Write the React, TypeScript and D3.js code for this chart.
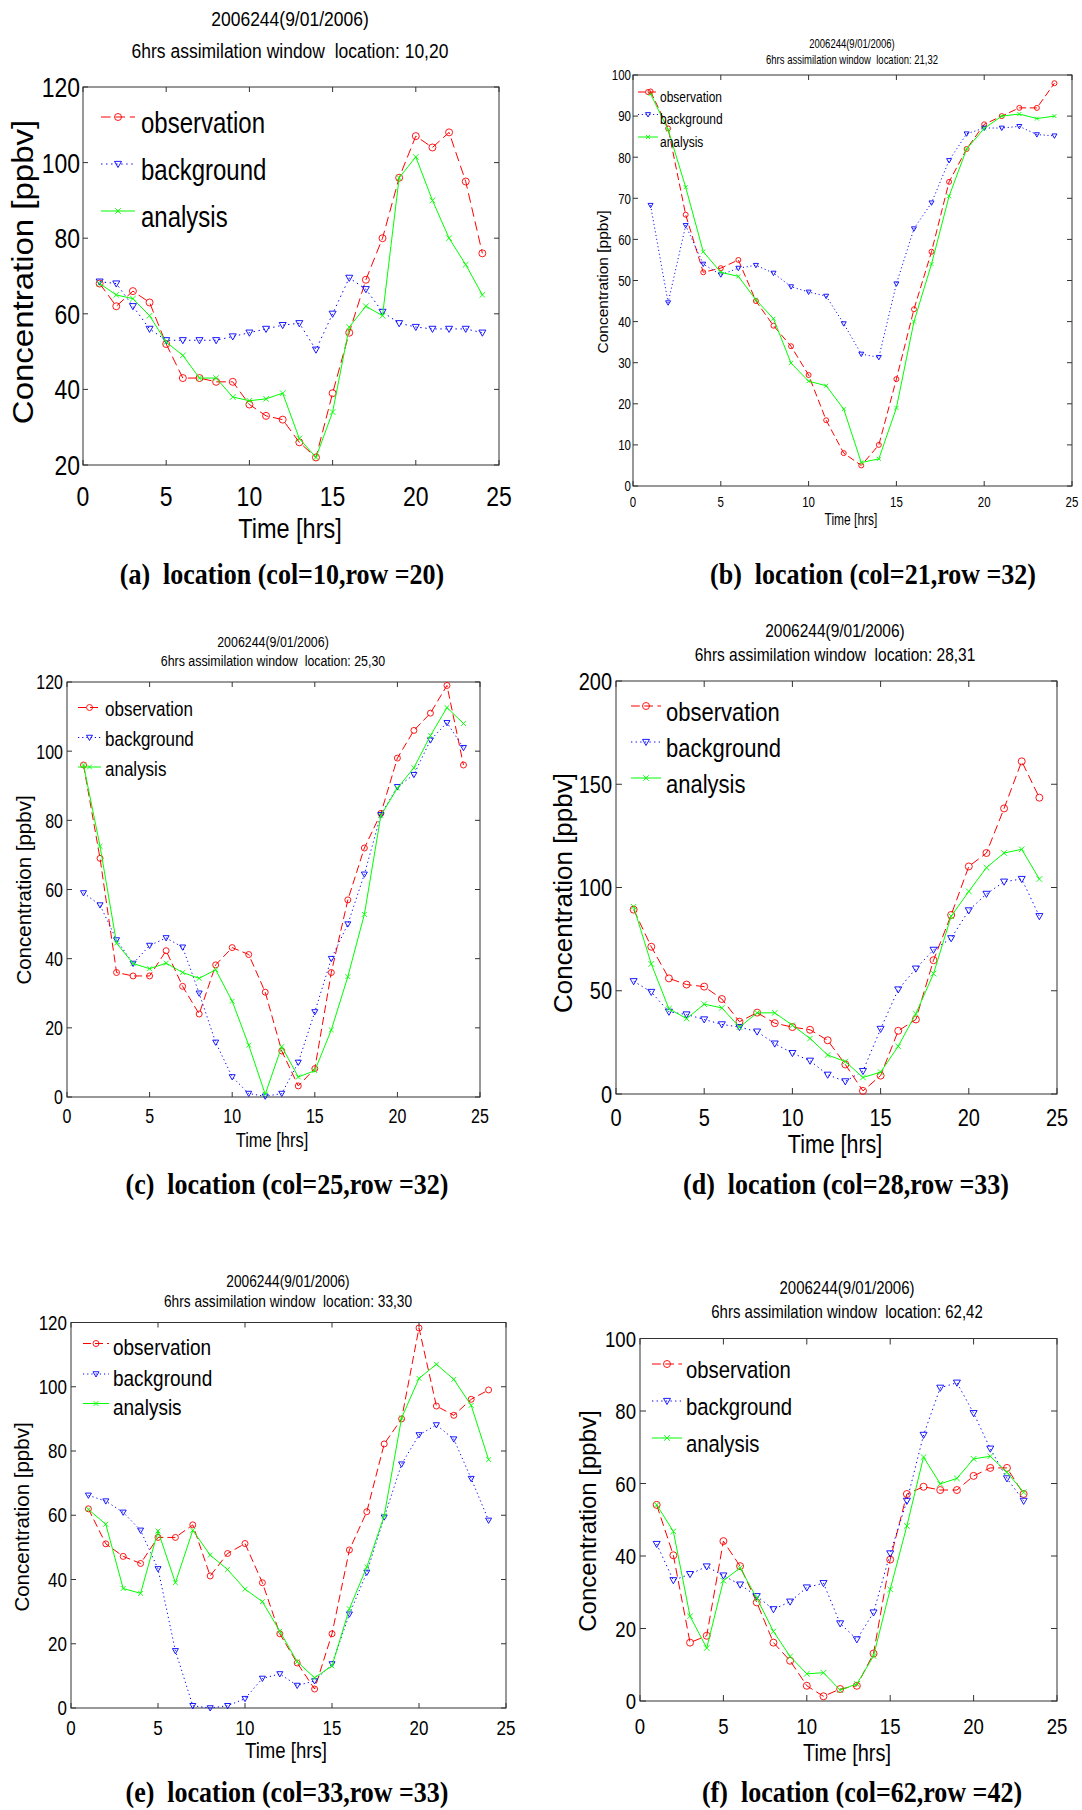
import React from "react";
import * as d3 from "d3";

// ---------- data ----------
const HOURS_24 = [1, 2, 3, 4, 5, 6, 7, 8, 9, 10, 11, 12, 13, 14, 15, 16, 17, 18, 19, 20, 21, 22, 23, 24];
const HOURS_23 = [1, 2, 3, 4, 5, 6, 7, 8, 9, 10, 11, 12, 13, 14, 15, 16, 17, 18, 19, 20, 21, 22, 23];
const X_TICKS = [0, 5, 10, 15, 20, 25];
const SERIES_NAMES = ["observation", "background", "analysis"];
const TITLE_LINE1 = "2006244(9/01/2006)";

const obsA = [68, 62, 66, 63, 52, 43, 43, 42, 42, 36, 33, 32, 26, 22, 39, 55, 69, 80, 96, 107, 104, 108, 95, 76];
const bgA = [68.5, 68, 62, 56, 53, 53, 53, 53, 54, 55, 56, 57, 57.5, 50.5, 60, 69.5, 66.5, 60.5, 57.5, 56.5, 56, 56, 56, 55];
const anA = [68, 65, 64, 59.5, 52.5, 49, 43, 43, 38, 37, 37.5, 39, 27, 22, 34, 56.5, 62, 59.5, 96, 101.5, 90, 80, 73, 65];
const yTicksA = [20, 40, 60, 80, 100, 120];

const obsB = [96, 87, 66, 52, 53, 55, 45, 39, 34, 27, 16, 8, 5, 10, 26, 43, 57, 74, 82, 88, 90, 92, 92, 98];
const bgB = [68.3, 44.6, 63.4, 54, 51.4, 53, 53.7, 51.8, 48.5, 47.2, 46.2, 39.5, 32.1, 31.3, 49.2, 62.6, 68.9, 79.2, 85.7, 87.1, 87.1, 87.5, 85.5, 85.2];
const anB = [95.4, 86.7, 72.7, 57, 52, 51, 45.3, 40.7, 29.9, 25.5, 24.4, 18.7, 5.7, 6.6, 19, 40, 54, 70.5, 82, 87, 90, 90.5, 89.4, 90];
const yTicksB = [0, 10, 20, 30, 40, 50, 60, 70, 80, 90, 100];

const obsC = [96, 69, 36, 35, 35, 42.3, 32, 24, 38.2, 43.2, 41.2, 30.3, 13.3, 3.2, 8.2, 36, 57, 72, 82, 98, 106, 111, 119, 96];
const bgC = [59, 55.5, 45.4, 38.6, 43.8, 46, 43.3, 30, 15.8, 5.8, 1, 0.2, 1, 10, 24.6, 40, 50, 64.4, 81.6, 89.7, 93.2, 103.2, 108.2, 101];
const anC = [96, 72.5, 44.5, 38.6, 37.1, 38.7, 36, 34.3, 36.8, 27.7, 15, 0.8, 14.6, 5.8, 7.6, 19.4, 34.8, 52.8, 81.4, 89.3, 95.2, 104.5, 112.6, 108];
const yTicksC = [0, 20, 40, 60, 80, 100, 120];

const obsD = [89.3, 71.3, 56, 53, 52, 46, 35, 39.4, 34.3, 32.4, 31.1, 26, 14.3, 1.5, 8.9, 30.6, 36.1, 64.8, 86.7, 110.2, 116.7, 138.3, 161.1, 143.5];
const bgD = [54.6, 49.4, 39.8, 38.5, 36.1, 33.7, 32.4, 30.2, 24.4, 19.8, 16.1, 9.3, 6.1, 11.1, 31.5, 50.6, 60.7, 69.8, 75.4, 88.9, 96.9, 102.8, 104.1, 86.1];
const anD = [90.7, 63, 41.3, 36.5, 43.5, 41.7, 32.4, 39.3, 39.3, 33.3, 26.9, 18.9, 15.7, 8, 10.6, 23.1, 38.9, 58.3, 86.1, 98.1, 109.6, 116.7, 118.5, 104.1];
const yTicksD = [0, 50, 100, 150, 200];

const obsE = [62, 51.1, 47.2, 45, 53.1, 53.1, 57, 41.1, 48.1, 51.2, 39, 23.1, 14, 5.9, 23.1, 49.2, 61.1, 82.2, 90, 118.3, 94, 91.1, 96.1, 99];
const bgE = [66.2, 64.4, 60.9, 55.3, 43.3, 17.8, 0.7, 0, 0.7, 2.9, 9.2, 10.6, 7, 8.4, 13.7, 29.2, 42.2, 59.4, 75.9, 85, 88.1, 83.7, 71.4, 58.4];
const anE = [61.8, 57.2, 37.2, 35.7, 55.1, 39, 55.3, 47.6, 43.1, 37, 33.1, 23.9, 14.4, 9.4, 13.1, 30.9, 43.9, 59.8, 90.3, 102.6, 107, 102.3, 94.2, 77.3];
const yTicksE = [0, 20, 40, 60, 80, 100, 120];

const obsF = [54.1, 40.2, 16.1, 18, 44.1, 37.2, 27.2, 16.1, 11.1, 4.2, 1.3, 3.3, 4.2, 13.1, 39, 57.1, 59.1, 58.2, 58.2, 62.1, 64.3, 64.3, 57.1];
const bgF = [43.3, 33.3, 35, 37.1, 34.6, 32.1, 28.9, 25.3, 27.4, 31.3, 32.5, 21.4, 17, 24.4, 40.7, 55.2, 73.4, 86.4, 87.8, 79.4, 69.6, 61.4, 55.2];
const anF = [54.1, 46.8, 23.4, 14.6, 33.2, 36.7, 28.4, 19.2, 12.3, 7.5, 7.8, 3, 4.7, 12.4, 30.8, 48.3, 67.3, 59.9, 61.4, 66.8, 67.5, 63.1, 57.6];
const yTicksF = [0, 20, 40, 60, 80, 100];

// ---------- layout ----------
const SANS = "'Liberation Sans', Arial, Helvetica, sans-serif";
const SERIF = "'Liberation Serif', 'Times New Roman', Times, serif";
const RED = "#ff0000";
const BLUE = "#0000ff";
const GREEN = "#00ff00";

const panels = [
  {
    hours: HOURS_24, obs: obsA, bg: bgA, an: anA, yTicks: yTicksA, yDomain: [20, 120],
    location: "10,20", caption: "(a)  location (col=10,row =20)",
    L: 83, R: 499, T: 87, B: 465, tickLen: 5,
    tickFs: 23, tickSy: 1.2, xTickBase: 506, yTickRight: 80,
    titleFs: 17.5, titleSy: 1.2, titleX: 290, title1Y: 25.5, title2Y: 58,
    xlabFs: 23.5, xlabSy: 1.2, xlabX: 290, xlabY: 538,
    ylabFs: 30, ylabSx: 1.1, ylabX: 22, ylabY: 272,
    legFs: 24, legSy: 1.22, legX0: 101, legX1: 135, legTx: 141, legRows: [117, 164, 211], legOff: 16,
    capX: 282, capY: 584, mk: 3.5, dash: 1.2,
  },
  {
    hours: HOURS_24, obs: obsB, bg: bgB, an: anB, yTicks: yTicksB, yDomain: [0, 100],
    location: "21,32", caption: "(b)  location (col=21,row =32)",
    L: 633, R: 1072, T: 75, B: 486, tickLen: 5,
    tickFs: 11.5, tickSy: 1.3, xTickBase: 507, yTickRight: 631,
    titleFs: 9.5, titleSy: 1.3, titleX: 852, title1Y: 48, title2Y: 64,
    xlabFs: 12, xlabSy: 1.3, xlabX: 851, xlabY: 525,
    ylabFs: 15.5, ylabSx: 1, ylabX: 602, ylabY: 282,
    legFs: 12, legSy: 1.22, legX0: 638, legX1: 658, legTx: 660, legRows: [92, 114.5, 137], legOff: 9.5,
    capX: 873, capY: 584, mk: 2.5, dash: 0.9,
  },
  {
    hours: HOURS_24, obs: obsC, bg: bgC, an: anC, yTicks: yTicksC, yDomain: [0, 120],
    location: "25,30", caption: "(c)  location (col=25,row =32)",
    L: 67, R: 480, T: 682, B: 1097, tickLen: 5,
    tickFs: 16, tickSy: 1.28, xTickBase: 1123, yTickRight: 63,
    titleFs: 12.4, titleSy: 1.25, titleX: 273, title1Y: 647, title2Y: 666,
    xlabFs: 16.5, xlabSy: 1.25, xlabX: 272, xlabY: 1147,
    ylabFs: 20.5, ylabSx: 1, ylabX: 24, ylabY: 890,
    legFs: 17, legSy: 1.23, legX0: 78, legX1: 101, legTx: 105, legRows: [707.5, 737.5, 767], legOff: 8.5,
    capX: 287, capY: 1194, mk: 3, dash: 1,
  },
  {
    hours: HOURS_24, obs: obsD, bg: bgD, an: anD, yTicks: yTicksD, yDomain: [0, 200],
    location: "28,31", caption: "(d)  location (col=28,row =33)",
    L: 616, R: 1057, T: 681, B: 1094, tickLen: 6,
    tickFs: 20, tickSy: 1.2, xTickBase: 1126, yTickRight: 612,
    titleFs: 15.5, titleSy: 1.2, titleX: 835, title1Y: 637, title2Y: 661,
    xlabFs: 21.4, xlabSy: 1.2, xlabX: 835, xlabY: 1153,
    ylabFs: 26, ylabSx: 1, ylabX: 563, ylabY: 893,
    legFs: 22, legSy: 1.18, legX0: 631, legX1: 661, legTx: 666, legRows: [706, 742, 778], legOff: 15,
    capX: 846, capY: 1194, mk: 3.5, dash: 1.1,
  },
  {
    hours: HOURS_24, obs: obsE, bg: bgE, an: anE, yTicks: yTicksE, yDomain: [0, 120],
    location: "33,30", caption: "(e)  location (col=33,row =33)",
    L: 71, R: 506, T: 1322.5, B: 1708, tickLen: 5,
    tickFs: 17, tickSy: 1.18, xTickBase: 1735, yTickRight: 67,
    titleFs: 13.7, titleSy: 1.2, titleX: 288, title1Y: 1287, title2Y: 1307,
    xlabFs: 18.6, xlabSy: 1.15, xlabX: 286, xlabY: 1758,
    ylabFs: 20.5, ylabSx: 1, ylabX: 22, ylabY: 1517,
    legFs: 19, legSy: 1.12, legX0: 83, legX1: 109, legTx: 113, legRows: [1343.5, 1374, 1403.5], legOff: 11.5,
    capX: 287, capY: 1802, mk: 3, dash: 1,
  },
  {
    hours: HOURS_23, obs: obsF, bg: bgF, an: anF, yTicks: yTicksF, yDomain: [0, 100],
    location: "62,42", caption: "(f)  location (col=62,row =42)",
    L: 640, R: 1057, T: 1338.5, B: 1701, tickLen: 6,
    tickFs: 18.6, tickSy: 1.2, xTickBase: 1734, yTickRight: 636,
    titleFs: 15, titleSy: 1.2, titleX: 847, title1Y: 1294, title2Y: 1318,
    xlabFs: 20, xlabSy: 1.2, xlabX: 847, xlabY: 1761,
    ylabFs: 24, ylabSx: 1, ylabX: 587, ylabY: 1521,
    legFs: 20.3, legSy: 1.2, legX0: 652, legX1: 682, legTx: 686, legRows: [1364, 1401, 1438], legOff: 14,
    capX: 862, capY: 1802, mk: 3.5, dash: 1.1,
  },
];

// ---------- helpers ----------
function SText({ x, y, fs, sy = 1, anchor = "start", family = SANS, weight = "normal", children }: any) {
  return (
    <text
      transform={`translate(${x},${y}) scale(1,${sy})`}
      fontSize={fs}
      fontFamily={family}
      fontWeight={weight}
      textAnchor={anchor}
      fill="#000"
      style={{ whiteSpace: "pre" }}
    >
      {children}
    </text>
  );
}

function Marker({ kind, x, y, s, color }: any) {
  if (kind === 0) return <circle cx={x} cy={y} r={s} fill="none" stroke={color} strokeWidth={0.9} />;
  if (kind === 1) {
    const p = `M${x - s},${y - s * 0.75}L${x + s},${y - s * 0.75}L${x},${y + s}Z`;
    return <path d={p} fill="none" stroke={color} strokeWidth={0.9} />;
  }
  return (
    <path
      d={`M${x - s * 0.8},${y - s * 0.8}L${x + s * 0.8},${y + s * 0.8}M${x - s * 0.8},${y + s * 0.8}L${x + s * 0.8},${y - s * 0.8}`}
      stroke={color}
      strokeWidth={0.9}
    />
  );
}

function Panel({ p }: any) {
  const x = d3.scaleLinear().domain([0, 25]).range([p.L, p.R]);
  const y = d3.scaleLinear().domain(p.yDomain).range([p.B, p.T]);
  const line = d3
    .line<number>()
    .x((_, i) => x(p.hours[i]))
    .y((v) => y(v));
  const styles = [
    { color: RED, dash: `${8 * p.dash},${4 * p.dash}` },
    { color: BLUE, dash: `${1.2 * p.dash},${3 * p.dash}` },
    { color: GREEN, dash: undefined },
  ];
  const series = [p.obs, p.bg, p.an];
  const axisColor = "#333";
  return (
    <g>
      <SText x={p.titleX} y={p.title1Y} fs={p.titleFs} sy={p.titleSy} anchor="middle">
        {TITLE_LINE1}
      </SText>
      <SText x={p.titleX} y={p.title2Y} fs={p.titleFs} sy={p.titleSy} anchor="middle">
        {`6hrs assimilation window  location: ${p.location}`}
      </SText>

      <rect x={p.L} y={p.T} width={p.R - p.L} height={p.B - p.T} fill="#fff" stroke={axisColor} strokeWidth={1} />
      {X_TICKS.map((t) => (
        <g key={`xt${t}`}>
          <line x1={x(t)} x2={x(t)} y1={p.B} y2={p.B - p.tickLen} stroke={axisColor} />
          <line x1={x(t)} x2={x(t)} y1={p.T} y2={p.T + p.tickLen} stroke={axisColor} />
          <SText x={x(t)} y={p.xTickBase} fs={p.tickFs} sy={p.tickSy} anchor="middle">
            {String(t)}
          </SText>
        </g>
      ))}
      {p.yTicks.map((t: number) => (
        <g key={`yt${t}`}>
          <line x1={p.L} x2={p.L + p.tickLen} y1={y(t)} y2={y(t)} stroke={axisColor} />
          <line x1={p.R} x2={p.R - p.tickLen} y1={y(t)} y2={y(t)} stroke={axisColor} />
          <SText x={p.yTickRight} y={y(t) + 0.36 * p.tickFs * p.tickSy} fs={p.tickFs} sy={p.tickSy} anchor="end">
            {String(t)}
          </SText>
        </g>
      ))}

      <SText x={p.xlabX} y={p.xlabY} fs={p.xlabFs} sy={p.xlabSy} anchor="middle">
        Time [hrs]
      </SText>
      <text
        transform={`translate(${p.ylabX},${p.ylabY}) rotate(-90) scale(${p.ylabSx},1)`}
        fontSize={p.ylabFs}
        fontFamily={SANS}
        textAnchor="middle"
        dy="0.36em"
        fill="#000"
      >
        Concentration [ppbv]
      </text>

      {series.map((vals: number[], si: number) => (
        <g key={`s${si}`}>
          <path
            d={line(vals) || ""}
            fill="none"
            stroke={styles[si].color}
            strokeWidth={1}
            strokeDasharray={styles[si].dash}
          />
          {vals.map((v, i) => (
            <Marker key={i} kind={si} x={x(p.hours[i])} y={y(v)} s={p.mk} color={styles[si].color} />
          ))}
        </g>
      ))}

      {SERIES_NAMES.map((name, si) => {
        const ry = p.legRows[si];
        return (
          <g key={`lg${si}`}>
            <line
              x1={p.legX0}
              x2={p.legX1}
              y1={ry}
              y2={ry}
              stroke={styles[si].color}
              strokeWidth={1}
              strokeDasharray={styles[si].dash}
            />
            <Marker kind={si} x={(p.legX0 + p.legX1) / 2} y={ry} s={p.mk} color={styles[si].color} />
            <SText x={p.legTx} y={ry + p.legOff} fs={p.legFs} sy={p.legSy}>
              {name}
            </SText>
          </g>
        );
      })}

      <SText x={p.capX} y={p.capY} fs={26} sy={1.1} anchor="middle" family={SERIF} weight="bold">
        {p.caption}
      </SText>
    </g>
  );
}

export default function App() {
  return (
    <svg
      width={1082}
      height={1810}
      viewBox="0 0 1082 1810"
      style={{ position: "absolute", left: 0, top: 0, background: "#fff" }}
    >
      <rect x={0} y={0} width={1082} height={1810} fill="#fff" />
      {panels.map((p, i) => (
        <Panel key={i} p={p} />
      ))}
    </svg>
  );
}
